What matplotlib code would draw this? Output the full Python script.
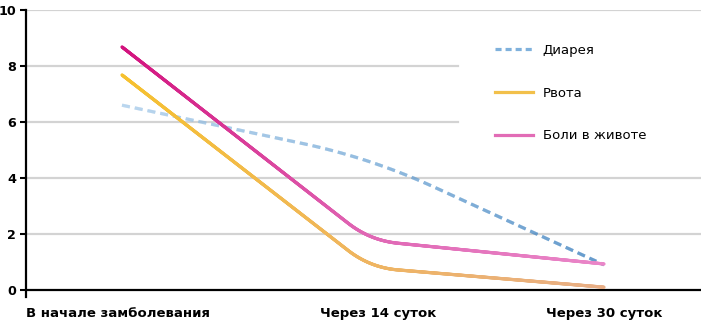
import matplotlib
matplotlib.use("Agg")
import matplotlib.pyplot as plt
import numpy as np
from matplotlib.collections import LineCollection
from matplotlib.colors import to_rgb
from matplotlib.lines import Line2D
from matplotlib.transforms import blended_transform_factory

# data
categories = ["В начале замболевания", "Через 14 суток", "Через 30 суток"]
series_names = ["Диарея", "Рвота", "Боли в животе"]
diarrhea = [6.6, 4.72, 0.9]
vomiting = [7.68, 0.8, 0.1]
pain = [8.68, 1.77, 0.93]

# layout / style
cat_x = [0, 1.03, 2]
grad_diarrhea = ["#a3c9ea", "#6fa6d6", "#2f78bb"]
grad_vomiting = ["#f6c12e", "#efb560", "#e8ae86"]
grad_pain = ["#d3117d", "#e066b4", "#ea86c8"]
legend_colors = ["#7fb1dc", "#f2c04a", "#e26cb6"]

plt.rcParams["font.family"] = ["DejaVu Sans"]

fig = plt.figure(figsize=(7.01, 3.24), dpi=100)
ax = fig.add_axes([26 / 701, 27 / 324, 675 / 701, 287 / 324])
ax.set_xlim(-96 / 241, 2 + 97 / 241)
ax.set_ylim(-0.25, 10)


def rounded(xs, ys, radius):
    # straight pieces with each inner corner rounded off (quadratic bezier), in pixels
    pts = ax.transData.transform(np.column_stack([xs, ys]))
    out = [pts[0]]
    t = np.linspace(0, 1, 60)[:, None]
    for i in range(1, len(pts) - 1):
        p = pts[i]
        a = p + (pts[i - 1] - p) / np.hypot(*(pts[i - 1] - p)) * radius
        b = p + (pts[i + 1] - p) / np.hypot(*(pts[i + 1] - p)) * radius
        out.extend((1 - t) ** 2 * a + 2 * (1 - t) * t * p + t ** 2 * b)
    out.append(pts[-1])
    out = np.array(out)
    # densify so colours / dashes can vary along the line
    s = np.concatenate([[0], np.cumsum(np.hypot(*np.diff(out, axis=0).T))])
    ss = np.linspace(0, s[-1], int(s[-1] * 2))
    return np.column_stack([np.interp(ss, s, out[:, 0]), np.interp(ss, s, out[:, 1])]), ss


def grad_line(xs, ys, stops, radius, dashed=False, lw=2.3):
    disp, s = rounded(xs, ys, radius)
    data = ax.transData.inverted().transform(disp)
    segs = np.stack([data[:-1], data[1:]], axis=1)
    frac = (segs[:, :, 0].mean(axis=1) - xs[0]) / (xs[-1] - xs[0])
    rgb = np.array([to_rgb(c) for c in stops])
    pos = np.linspace(0, 1, len(stops))
    cols = np.column_stack([np.interp(frac, pos, rgb[:, j]) for j in range(3)])
    if dashed:
        mid = (s[:-1] + s[1:]) / 2
        keep = (mid % 13) < 8
        segs, cols = segs[keep], cols[keep]
    lc = LineCollection(segs, colors=cols, linewidths=lw,
                        capstyle="butt" if dashed else "round", zorder=3)
    ax.add_collection(lc)


# grid
for gy in [2, 4, 10]:
    ax.axhline(gy, color="#d3d3d3", lw=1.6, zorder=1)
for gy in [6, 8]:
    ax.axhline(gy, xmax=(458 - 26) / 675, color="#d3d3d3", lw=1.6, zorder=1)
ax.axhline(0, color="black", lw=1.6, zorder=2)

grad_line(cat_x, diarrhea, grad_diarrhea, 70, dashed=True)
grad_line(cat_x, vomiting, grad_vomiting, 28)
grad_line(cat_x, pain, grad_pain, 28)

for s in ["top", "right", "bottom"]:
    ax.spines[s].set_visible(False)
ax.spines["left"].set_linewidth(1.6)
ax.set_xticks([])
ax.set_yticks([0, 2, 4, 6, 8, 10])
ax.tick_params(axis="y", length=4, width=1.5, pad=3, labelsize=9.2)
for lab in ax.get_yticklabels():
    lab.set_fontweight("bold")

tr = blended_transform_factory(ax.transData, ax.transAxes)
for i, name in enumerate(categories):
    if i == 0:
        ax.text(0.0, -0.056, name, transform=ax.transAxes, ha="left", va="center",
                fontsize=9.5, fontweight="bold")
    else:
        ax.text(cat_x[i] if i == 2 else 1.065, -0.056, name, transform=tr, ha="center",
                va="center", fontsize=9.5, fontweight="bold")

handles = [Line2D([], [], color=legend_colors[0], lw=2.3, ls=(0, (1.9, 1.25))),
           Line2D([], [], color=legend_colors[1], lw=2.3),
           Line2D([], [], color=legend_colors[2], lw=2.3)]
ax.legend(handles, series_names, loc="upper left", bbox_to_anchor=(0.695, 0.882),
          frameon=False, borderpad=0, borderaxespad=0, handlelength=2.9,
          handletextpad=0.7, labelspacing=2.25, fontsize=9.5)

fig.savefig("out.png", dpi=100)
